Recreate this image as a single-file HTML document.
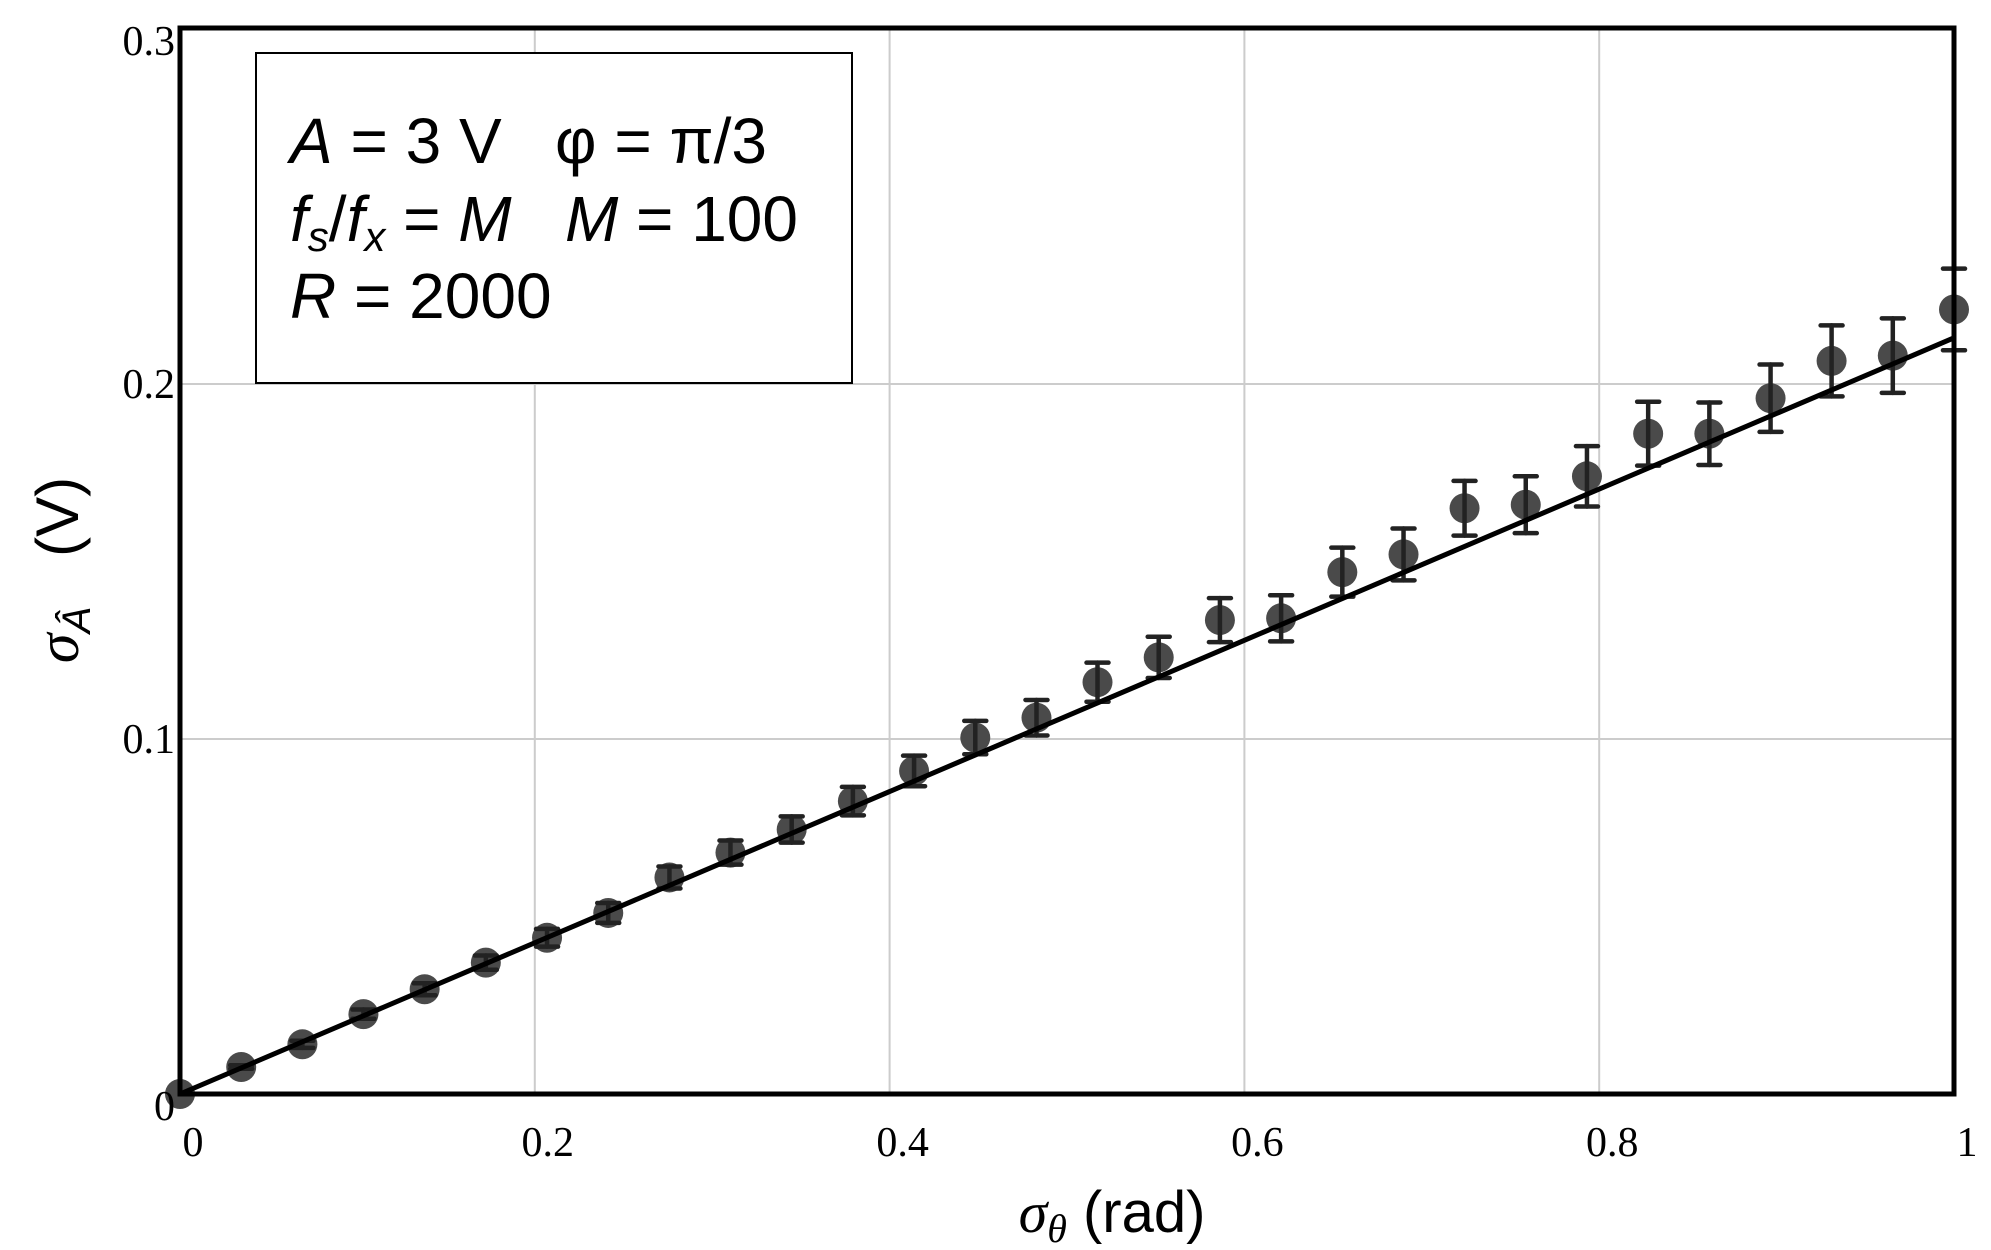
<!DOCTYPE html>
<html><head><meta charset="utf-8"><style>
body{margin:0;background:#fff}
svg{display:block}
text{white-space:pre}
</style></head><body>
<svg id="chart" width="1991" height="1250" viewBox="0 0 1991 1250" xmlns="http://www.w3.org/2000/svg" xml:space="preserve">
<g id="grid"></g>
<g id="fit"></g>
<g id="pts"></g>
<rect x="180" y="28" width="1774" height="1066" fill="none" stroke="#000" stroke-width="5"/>
<g id="ticks" font-family="'Liberation Serif',serif" font-size="42" fill="#000"></g>
<g>
<rect x="256" y="53" width="596" height="330" fill="#fff" stroke="#000" stroke-width="2"/>
<text font-family="'Liberation Sans',sans-serif" font-size="64" x="290" y="163"><tspan font-style="italic">A</tspan> = 3 V   φ = π/3</text>
<text font-family="'Liberation Sans',sans-serif" font-size="64" x="290" y="241"><tspan font-style="italic">f</tspan><tspan font-style="italic" font-size="42" dy="10">s</tspan><tspan dy="-10">/</tspan><tspan font-style="italic">f</tspan><tspan font-style="italic" font-size="42" dy="10">x</tspan><tspan dy="-10"> = </tspan><tspan font-style="italic">M</tspan><tspan>   </tspan><tspan font-style="italic">M</tspan><tspan> = 100</tspan></text>
<text font-family="'Liberation Sans',sans-serif" font-size="64" x="290" y="318"><tspan font-style="italic">R</tspan> = 2000</text>
</g>
<text x="1112" y="1232" text-anchor="middle" font-family="'Liberation Sans',sans-serif" font-size="58"><tspan font-family="'Liberation Serif',serif" font-style="italic">σ</tspan><tspan font-family="'Liberation Serif',serif" font-style="italic" font-size="40" dy="10">θ</tspan><tspan dy="-10"> (rad)</tspan></text>
<text transform="translate(78,570) rotate(-90)" text-anchor="middle" font-family="'Liberation Sans',sans-serif" font-size="60"><tspan font-family="'Liberation Serif',serif" font-style="italic">σ</tspan><tspan font-style="italic" font-size="40" dy="12">Â</tspan><tspan dy="-12">   (V)</tspan></text>
</svg>
<script>
const xs=[0,0.0345,0.069,0.1034,0.1379,0.1724,0.2069,0.2414,0.2759,0.3103,0.3448,0.3793,0.4138,0.4483,0.4828,0.5172,0.5517,0.5862,0.6207,0.6552,0.6897,0.7241,0.7586,0.7931,0.8276,0.8621,0.8966,0.931,0.9655,1.0];
const ys=[0,0.0076,0.014,0.0225,0.0295,0.037,0.044,0.051,0.061,0.068,0.0745,0.0825,0.091,0.1004,0.106,0.116,0.123,0.1335,0.134,0.147,0.152,0.165,0.166,0.174,0.186,0.186,0.196,0.2065,0.208,0.221];
const errs=[0,0.0005,0.001,0.0013,0.0017,0.002,0.0025,0.0028,0.0031,0.0034,0.0037,0.004,0.0043,0.0047,0.005,0.0055,0.0058,0.0062,0.0065,0.0069,0.0073,0.0077,0.008,0.0085,0.009,0.0088,0.0095,0.01,0.0105,0.0115];
const fitX=[0,1];
const fitY=[0,0.213];
const xTicks=[0,0.2,0.4,0.6,0.8,1];
const xTickLabels=["0","0.2","0.4","0.6","0.8","1"];
const yTicks=[0,0.1,0.2,0.3];
const yTickLabels=["0","0.1","0.2","0.3"];
const X0=180,X1=1954,Y0=1094,Y1=29;
const sx=v=>X0+(X1-X0)*v;
const sy=v=>Y0-(Y0-Y1)*v/0.3;
const NS="http://www.w3.org/2000/svg";
function mk(t,a,p){const e=document.createElementNS(NS,t);for(const k in a)e.setAttribute(k,a[k]);p.appendChild(e);return e;}
const grid=document.getElementById('grid'),ticks=document.getElementById('ticks');
xTicks.forEach((v,i)=>{
 if(v>0&&v<1){const l=mk('line',{x1:sx(v),x2:sx(v),y1:Y1,y2:Y0,stroke:'#ccc','stroke-width':2},grid);
 
 }
 const t=mk('text',{x:sx(v)+13,y:1156,'text-anchor':'middle'},ticks);t.textContent=xTickLabels[i];
 
 
});
yTicks.forEach((v,i)=>{
 if(v>0&&v<0.3){const l=mk('line',{x1:X0,x2:X1,y1:sy(v),y2:sy(v),stroke:'#ccc','stroke-width':2},grid);
 
 }
 const t=mk('text',{x:175,y:sy(v)+(v==0.3?26:(v==0?26:14)),'text-anchor':'end'},ticks);t.textContent=yTickLabels[i];
 
 
});
const pts=document.getElementById('pts');
xs.forEach((x,i)=>{
 const g=mk('g',{},pts);
 
 
 mk('circle',{cx:sx(x),cy:sy(ys[i]),r:15,fill:'#4a4a4a'},g);
 if(errs[i]>0){
  const a=sy(ys[i]+errs[i]),b=sy(ys[i]-errs[i]),c=sx(x);
  const st={stroke:'#222','stroke-width':4.5,'stroke-linecap':'round'};
  mk('line',Object.assign({x1:c,x2:c,y1:a,y2:b},st),g);
  mk('line',Object.assign({x1:c-11,x2:c+11,y1:a,y2:a},st),g);
  mk('line',Object.assign({x1:c-11,x2:c+11,y1:b,y2:b},st),g);
 }
});
const fit=document.getElementById('fit');
const fl=mk('line',{x1:sx(fitX[0]),y1:sy(fitY[0]),x2:sx(fitX[1]),y2:sy(fitY[1]),stroke:'#000','stroke-width':5},fit);


document.getElementById('chart').appendChild(fit);
</script>
</body></html>
